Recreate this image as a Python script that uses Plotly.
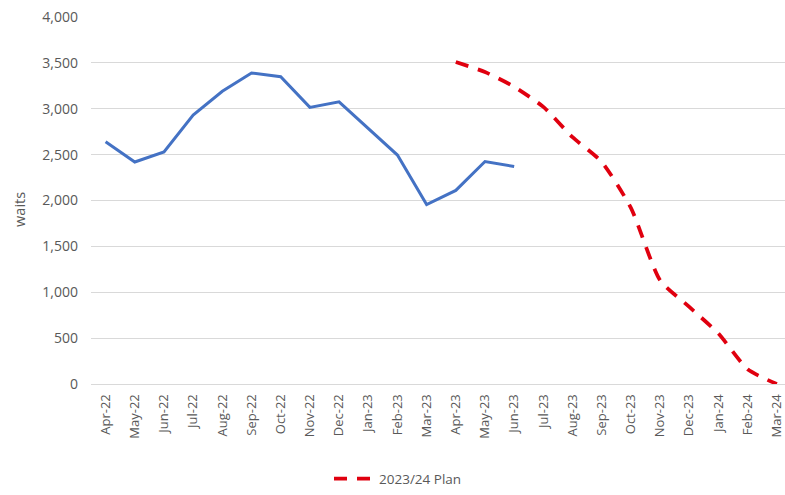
import plotly.graph_objects as go

# Months from Apr-22 through Mar-24
months = ["Apr-22", "May-22", "Jun-22", "Jul-22", "Aug-22", "Sep-22", "Oct-22", "Nov-22",
          "Dec-22", "Jan-23", "Feb-23", "Mar-23", "Apr-23", "May-23", "Jun-23", "Jul-23",
          "Aug-23", "Sep-23", "Oct-23", "Nov-23", "Dec-23", "Jan-24", "Feb-24", "Mar-24"]

# Actual waits (Apr-22 to Jun-23)
actual_months = months[:15]
actual_waits = [2640, 2420, 2530, 2930, 3190, 3390, 3350, 3015, 3075, 2780, 2495, 1955,
                2110, 2425, 2370]

# 2023/24 plan trajectory (Apr-23 to Mar-24)
plan_months = months[12:]
plan_waits = [3510, 3400, 3240, 3020, 2690, 2420, 1920, 1130, 840, 550, 160, 0]

y_ticks = [0, 500, 1000, 1500, 2000, 2500, 3000, 3500, 4000]

label_color = "#595959"
grid_color = "#d9d9d9"
font_family = "Open Sans, Liberation Sans, sans-serif"

fig = go.Figure()

fig.add_trace(go.Scatter(
    x=actual_months, y=actual_waits, mode="lines",
    line=dict(color="#4472C4", width=3),
    showlegend=False, name="Actual",
))

fig.add_trace(go.Scatter(
    x=plan_months, y=plan_waits, mode="lines",
    line=dict(color="#E0000F", width=3.75, dash="13px,10px", shape="spline", smoothing=0.6),
    name="2023/24 Plan",
))

left, right, top, bottom = 91, 0, 17, 107
W, H = 785, 495
plot_w = W - left - right
plot_h = H - top - bottom

fig.update_layout(
    width=W, height=H,
    margin=dict(l=left, r=right, t=top, b=bottom, pad=0),
    paper_bgcolor="white", plot_bgcolor="white",
    font=dict(family=font_family, color=label_color, size=12),
    showlegend=True,
    legend=dict(
        orientation="h", x=(398 - left) / plot_w, xanchor="center",
        y=(H - bottom - 484) / plot_h, yanchor="middle",
        font=dict(size=13.5, color=label_color), itemwidth=40,
        bgcolor="rgba(0,0,0,0)",
    ),
)

fig.update_xaxes(
    type="category", categoryorder="array", categoryarray=months,
    range=[-0.5, 23.28],
    tickangle=-90, tickfont=dict(size=13, color=label_color),
    showgrid=False, showline=True, linecolor=grid_color, linewidth=1,
    ticks="", ticklabelstandoff=4, zeroline=False,
)

fig.update_yaxes(
    range=[0, 4000], tickvals=y_ticks, tickformat=",",
    tickfont=dict(size=14, color=label_color),
    showgrid=True, gridcolor=grid_color, gridwidth=1,
    showline=False, zeroline=False, ticks="", ticklabelstandoff=12,
)

fig.add_annotation(
    text="waits", textangle=-90, showarrow=False,
    xref="paper", yref="paper",
    x=(20 - left) / plot_w, y=(H - bottom - 212) / plot_h,
    xanchor="center", yanchor="middle",
    font=dict(size=14.5, color=label_color),
)

fig.write_html("out.html")
